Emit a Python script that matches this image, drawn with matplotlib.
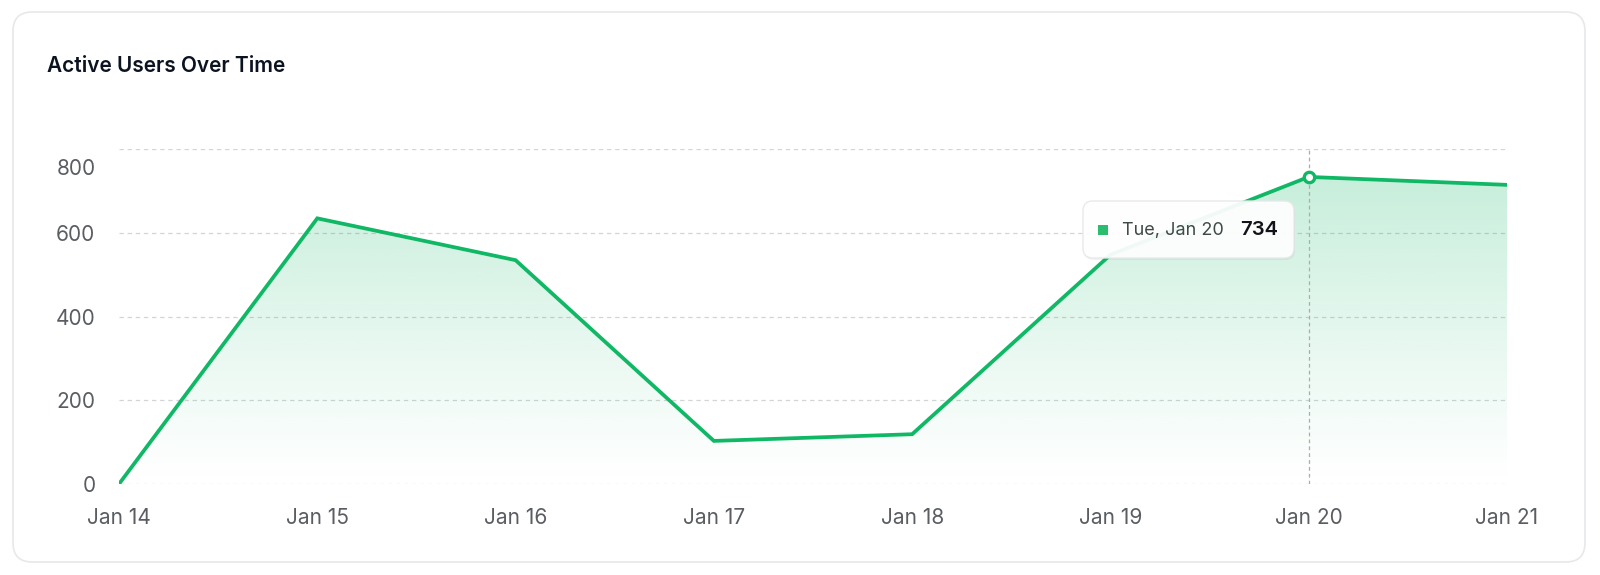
import numpy as np
import matplotlib
matplotlib.use("Agg")
import matplotlib.pyplot as plt
from matplotlib.patches import FancyBboxPatch, Polygon, Rectangle
from matplotlib.transforms import ScaledTranslation

days = ["Jan 14", "Jan 15", "Jan 16", "Jan 17", "Jan 18", "Jan 19", "Jan 20", "Jan 21"]
users = [0, 635, 535, 103, 119, 548, 734, 715]
y_ticks = [0, 200, 400, 600, 800]
hover_idx = 6
hover_label = "Tue, Jan 20"

GREEN = "#10b866"
W, H = 1600, 575

plt.rcParams['font.family'] = ['Inter', 'DejaVu Sans']
fig = plt.figure(figsize=(W / 100, H / 100), dpi=100)
fig.patch.set_facecolor("white")

# card background
card = FancyBboxPatch((13 / W, 13 / H), 1572 / W, 550 / H,
                      boxstyle="round,pad=0,rounding_size=0.012",
                      transform=fig.transFigure, facecolor="white",
                      edgecolor="#e6e8ea", linewidth=1.2, mutation_aspect=W / H, zorder=-5)
fig.patches.append(card)

fig.text(47 / W, 1 - 66 / H, "Active Users Over Time", fontsize=15,
         fontweight="semibold", color="#0b1220", va="center", ha="left")

ax = fig.add_axes([119 / W, 91 / H, 1388 / W, 334.7 / H])
ax.set_facecolor("none")
x = np.arange(len(days))
ax.set_xlim(x[0], x[-1])
ax.set_ylim(0, 800)

# gradient fill under the line (clipped to the area below the curve)
grad = np.zeros((256, 1, 4))
grad[:, 0, :3] = matplotlib.colors.to_rgb(GREEN)
grad[:, 0, 3] = np.linspace(0.0, 0.27, 256) ** 1.1
img = ax.imshow(grad, extent=[x[0], x[-1], 0, max(users)], aspect="auto",
                origin="lower", zorder=1, interpolation="bilinear")
poly = Polygon(list(zip(x, users)) + [(x[-1], 0), (x[0], 0)], closed=True,
               facecolor="none", edgecolor="none", transform=ax.transData)
ax.add_patch(poly)
img.set_clip_path(poly)

ax.plot(x, users, color=GREEN, linewidth=2.7, zorder=4, solid_joinstyle="miter")

# grid
for yt in y_ticks:
    ax.axhline(yt, color="#d2d4d6", linewidth=0.9, linestyle=(0, (3.5, 3)), zorder=0)
ax.axvline(x[hover_idx], color="#a9adb0", linewidth=0.9, linestyle=(0, (3, 2.5)), zorder=3)
ax.plot(x[hover_idx], users[hover_idx], marker="o", markersize=7.5,
        markerfacecolor="white", markeredgecolor=GREEN, markeredgewidth=2.4, zorder=5)

for s in ax.spines.values():
    s.set_visible(False)
ax.set_xticks(x)
ax.set_xticklabels(days)
ax.set_yticks(y_ticks)
ax.set_yticklabels([str(v) for v in y_ticks])
ax.tick_params(axis="both", length=0, labelsize=15, labelcolor="#5a5e63")
ax.tick_params(axis="x", pad=17)
ax.tick_params(axis="y", pad=17)
for lab in ax.get_yticklabels():
    if lab.get_text() == "800":
        lab.set_transform(lab.get_transform() + ScaledTranslation(0, -0.18, fig.dpi_scale_trans))

# tooltip
bx, by, bw, bh = 1083, 201, 211, 57
shadow = FancyBboxPatch(((bx + 1) / W, 1 - (by + bh + 2) / H), bw / W, bh / H,
                        boxstyle="round,pad=0,rounding_size=0.006",
                        transform=fig.transFigure, facecolor="#000000", alpha=0.05,
                        edgecolor="none", mutation_aspect=W / H, zorder=9)
tip = FancyBboxPatch((bx / W, 1 - (by + bh) / H), bw / W, bh / H,
                     boxstyle="round,pad=0,rounding_size=0.006",
                     transform=fig.transFigure, facecolor="white", alpha=0.94,
                     edgecolor="#e6e8ea", linewidth=1, mutation_aspect=W / H, zorder=10)
fig.patches.extend([shadow, tip])
fig.patches.append(Rectangle(((bx + 15) / W, 1 - (by + 34) / H), 10 / W, 10 / H,
                             transform=fig.transFigure, facecolor="#2bbd6e",
                             edgecolor="none", zorder=11))
fig.text((bx + 39) / W, 1 - (by + 29) / H, hover_label, fontsize=13,
         color="#3f4a46", va="center", ha="left", zorder=12)
fig.text((bx + 195) / W, 1 - (by + 29) / H, str(users[hover_idx]), fontsize=14.5,
         fontweight="semibold", color="#111418", va="center", ha="right", zorder=12)

fig.savefig("out.png", dpi=100, facecolor="white")
